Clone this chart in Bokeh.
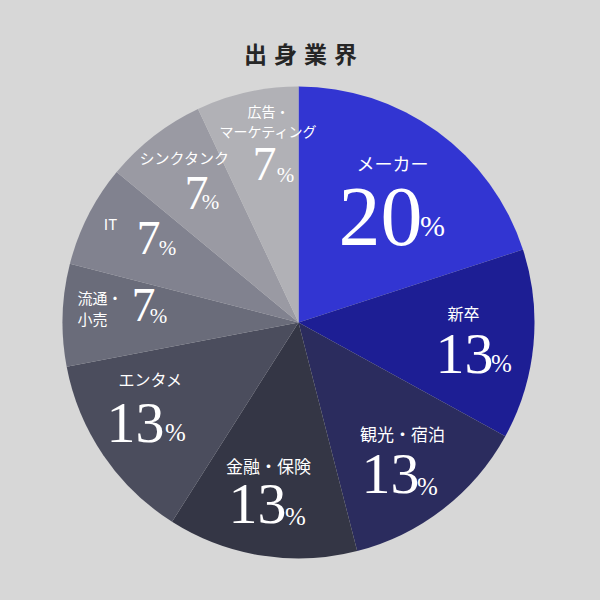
import math
from bokeh.plotting import figure
from bokeh.models import ColumnDataSource, Range1d
from bokeh.core.properties import value
from bokeh.embed import file_html
from bokeh.resources import INLINE

# ---- data ----
title = "出身業界"
categories = ["メーカー", "新卒", "観光・宿泊", "金融・保険", "エンタメ",
              "流通・\n小売", "IT", "シンクタンク", "広告・\nマーケティング"]
percents = [20, 13, 13, 13, 13, 7, 7, 7, 7]

# ---- style ----
colors = ["#3235d2", "#1d1e94", "#2b2c5e", "#343645", "#4b4d5d",
          "#6a6c7a", "#81828f", "#9a9aa3", "#b1b1b6"]
BG = "#d7d7d7"
W = 592
H = 592
CX, CY, R = 298, H - 322, 236

# label layout (picture coords): label centre, number centre, % centre
lab_pos = [(392, 162), (463, 312), (402, 433), (268, 465), (150, 378),
           (77, 307), (110, 223), (184, 157), (268, 120)]
lab_align = ["center"] * 5 + ["left", "center", "center", "center"]
lab_size = [18, 16, 17, 17, 16, 15, 15, 15, 14]
num_pos = [(380, 216), (464, 353), (390, 473), (257, 503), (135, 422),
           (143, 304), (148, 237), (196, 192), (264, 163)]
pct_pos = [(432, 225), (501, 363), (427, 486), (295, 516), (175, 432),
           (158, 315), (167, 247), (210, 201), (285, 174)]
num_size = [84, 58, 58, 58, 58, 48, 48, 48, 48]
pct_size = [30, 25, 25, 25, 25, 21, 21, 21, 21]

total = float(sum(percents))
starts, ends = [], []
cum = 0.0
for v in percents:
    starts.append(math.pi / 2 - 2 * math.pi * cum / total)
    cum += v
    ends.append(math.pi / 2 - 2 * math.pi * cum / total)

src = ColumnDataSource(dict(start=starts, end=ends, color=colors,
                            cat=categories, pct=percents))

p = figure(width=W, height=H, output_backend="svg", toolbar_location=None,
           x_range=Range1d(0, W), y_range=Range1d(0, H), min_border=0,
           background_fill_color=BG, border_fill_color=BG, outline_line_color=None)
p.axis.visible = False
p.grid.visible = False

p.wedge(x=CX, y=CY, radius=R, start_angle="start", end_angle="end",
        direction="clock", fill_color="color", line_color=None, source=src)

# title, spaced characters
for i, ch in enumerate(title):
    p.text(x=[300 + (i - 1.5) * 30], y=[H - 52], text=[ch],
           text_font=value("Noto Sans CJK JP"), text_font_style="bold",
           text_font_size="23px", text_color="#262626",
           text_align="center", text_baseline="middle")

# category labels
for i, c in enumerate(categories):
    lx, ly = lab_pos[i]
    p.text(x=[lx], y=[H - ly], text=[c], text_font=value("Noto Sans CJK JP"),
           text_font_size=f"{lab_size[i]}px", text_color="white",
           text_align=lab_align[i], text_baseline="middle",
           text_line_height=1.0)

# numbers
for i, v in enumerate(percents):
    nx, ny = num_pos[i]
    p.text(x=[nx], y=[H - ny], text=[str(v)], text_font=value("Liberation Serif"),
           text_font_size=f"{num_size[i]}px", text_color="white",
           text_align="center", text_baseline="middle")
    px, py = pct_pos[i]
    p.text(x=[px], y=[H - py], text=["%"], text_font=value("Liberation Serif"),
           text_font_size=f"{pct_size[i]}px", text_color="white",
           text_align="center", text_baseline="middle")

html = file_html(p, INLINE)
html = html.replace("<head>", "<head><style>html,body{background:%s;}</style>" % BG, 1)
open("out.html", "w").write(html)
